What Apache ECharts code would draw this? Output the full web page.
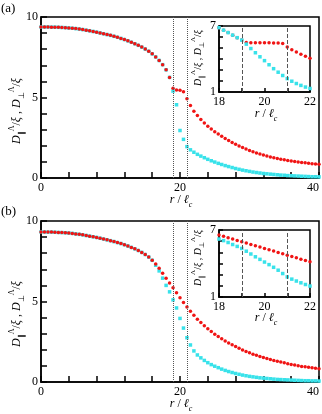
<!DOCTYPE html>
<html>
<head>
<meta charset="utf-8">
<script src="https://cdn.jsdelivr.net/npm/echarts@6/dist/echarts.min.js"></script>
<style>
  html, body { margin: 0; padding: 0; background: #fff; }
  #chart { width: 322px; height: 414px; }
</style>
</head>
<body>
<div id="chart"></div>
<script>
// r / l_c sample points, main panels
var rMain = [
  0, 0.5, 1, 1.5, 2, 2.5, 3, 3.5, 4, 4.5,
  5, 5.5, 6, 6.5, 7, 7.5, 8, 8.5, 9, 9.5,
  10, 10.5, 11, 11.5, 12, 12.5, 13, 13.5, 14, 14.5,
  15, 15.5, 16, 16.5, 17, 17.5, 18, 18.5, 19, 19.5,
  20, 20.5, 21, 21.5, 22, 22.5, 23, 23.5, 24, 24.5,
  25, 25.5, 26, 26.5, 27, 27.5, 28, 28.5, 29, 29.5,
  30, 30.5, 31, 31.5, 32, 32.5, 33, 33.5, 34, 34.5,
  35, 35.5, 36, 36.5, 37, 37.5, 38, 38.5, 39, 39.5,
  40
];

// panel (a)
var aPar = [
  9.38, 9.38, 9.38, 9.37, 9.37, 9.36, 9.35, 9.34, 9.32, 9.30,
  9.28, 9.25, 9.22, 9.18, 9.14, 9.10, 9.06, 9.01, 8.96, 8.91,
  8.86, 8.80, 8.74, 8.67, 8.60, 8.52, 8.43, 8.34, 8.24, 8.13,
  8.01, 7.87, 7.71, 7.52, 7.30, 7.04, 6.72, 6.25, 5.58, 5.47,
  5.45, 5.36, 4.92, 4.50, 4.15, 3.88, 3.63, 3.42, 3.22, 3.04,
  2.88, 2.73, 2.59, 2.46, 2.33, 2.21, 2.10, 1.99, 1.89, 1.80,
  1.71, 1.63, 1.56, 1.49, 1.43, 1.37, 1.31, 1.26, 1.21, 1.17,
  1.13, 1.09, 1.06, 1.03, 1.00, 0.97, 0.94, 0.92, 0.89, 0.87,
  0.85
];
var aPerp = [
  9.38, 9.38, 9.38, 9.37, 9.37, 9.36, 9.35, 9.34, 9.32, 9.30,
  9.28, 9.25, 9.22, 9.18, 9.14, 9.10, 9.06, 9.01, 8.96, 8.91,
  8.86, 8.80, 8.74, 8.67, 8.60, 8.52, 8.43, 8.34, 8.24, 8.13,
  8.01, 7.87, 7.71, 7.52, 7.30, 7.04, 6.72, 6.25, 5.40, 4.55,
  2.95, 2.40, 1.95, 1.75, 1.60, 1.47, 1.36, 1.26, 1.16, 1.07,
  0.99, 0.91, 0.84, 0.77, 0.71, 0.65, 0.59, 0.54, 0.49, 0.45,
  0.41, 0.37, 0.34, 0.31, 0.28, 0.26, 0.24, 0.22, 0.20, 0.18,
  0.17, 0.15, 0.14, 0.13, 0.12, 0.11, 0.10, 0.09, 0.08, 0.08,
  0.07
];

// panel (b)
var bPar = [
  9.32, 9.32, 9.31, 9.31, 9.30, 9.29, 9.28, 9.27, 9.25, 9.23,
  9.20, 9.17, 9.14, 9.10, 9.06, 9.02, 8.98, 8.93, 8.88, 8.83,
  8.78, 8.72, 8.66, 8.60, 8.53, 8.45, 8.36, 8.27, 8.17, 8.05,
  7.92, 7.76, 7.56, 7.33, 7.06, 6.76, 6.45, 6.15, 5.86, 5.55,
  5.24, 4.94, 4.66, 4.40, 4.14, 3.90, 3.69, 3.49, 3.30, 3.13,
  2.97, 2.82, 2.68, 2.55, 2.43, 2.31, 2.20, 2.09, 1.99, 1.90,
  1.81, 1.73, 1.66, 1.59, 1.52, 1.46, 1.40, 1.34, 1.29, 1.24,
  1.19, 1.14, 1.09, 1.05, 1.01, 0.97, 0.94, 0.91, 0.88, 0.85,
  0.82
];
var bPerp = [
  9.32, 9.32, 9.31, 9.31, 9.30, 9.29, 9.28, 9.27, 9.25, 9.23,
  9.20, 9.17, 9.14, 9.10, 9.06, 9.02, 8.98, 8.93, 8.88, 8.83,
  8.78, 8.72, 8.66, 8.60, 8.53, 8.45, 8.36, 8.27, 8.17, 8.05,
  7.92, 7.76, 7.56, 7.25, 6.90, 6.45, 6.00, 5.60, 5.10, 4.60,
  3.95, 3.35, 2.75, 2.30, 1.93, 1.68, 1.50, 1.34, 1.20, 1.08,
  0.98, 0.89, 0.80, 0.72, 0.65, 0.59, 0.53, 0.48, 0.43, 0.39,
  0.35, 0.32, 0.29, 0.26, 0.24, 0.22, 0.20, 0.18, 0.16, 0.15,
  0.14, 0.13, 0.12, 0.11, 0.10, 0.09, 0.08, 0.08, 0.07, 0.07,
  0.06
];

// insets, zoom on 18..22
var rInset = [18, 18.2, 18.4, 18.6, 18.8, 19, 19.2, 19.4, 19.6, 19.8, 20,
              20.2, 20.4, 20.6, 20.8, 21, 21.2, 21.4, 21.6, 21.8, 22];
var aParIn  = [6.85, 6.62, 6.40, 6.17, 5.94, 5.72, 5.50, 5.48, 5.48, 5.47, 5.47,
               5.47, 5.46, 5.45, 5.42, 5.08, 4.85, 4.63, 4.44, 4.25, 4.07];
var aPerpIn = [6.85, 6.62, 6.40, 6.17, 5.94, 5.72, 5.35, 4.95, 4.57, 4.20, 3.85,
               3.48, 3.12, 2.80, 2.50, 2.22, 1.98, 1.77, 1.60, 1.45, 1.32];
var bParIn  = [6.55, 6.43, 6.31, 6.19, 6.07, 5.95, 5.83, 5.71, 5.59, 5.47, 5.35,
               5.23, 5.11, 4.99, 4.87, 4.75, 4.63, 4.51, 4.39, 4.27, 4.15];
var bPerpIn = [6.19, 6.05, 5.88, 5.70, 5.53, 5.35, 5.10, 4.85, 4.60, 4.37, 4.13,
               3.90, 3.66, 3.40, 3.10, 2.80, 2.60, 2.43, 2.27, 2.12, 1.98];

var guideR = [19, 21];
var mainXLabels = [0, 20, 40];
var mainYLabels = [0, 5, 10];
var insetXLabels = [18, 20, 22];
var insetYLabels = [1, 7];

var RED = '#f01414';
var CYAN = '#38e2ea';
var FONT = 'Liberation Serif';

function pairs(xs, ys) {
  return xs.map(function (x, i) { return [x, ys[i]]; });
}

function richOf(size) {
  var small = Math.round(size * 0.65);
  var lh = size + 6;
  return {
    i: { fontFamily: FONT, fontStyle: 'italic', fontSize: size, fill: '#000', lineHeight: lh, verticalAlign: 'middle' },
    t: { fontFamily: FONT, fontSize: size, fill: '#000', lineHeight: lh, verticalAlign: 'middle' },
    sup: { fontFamily: FONT, fontSize: small, fill: '#000', lineHeight: lh, verticalAlign: 'top' },
    sub: { fontFamily: FONT, fontSize: small, fill: '#000', lineHeight: lh, verticalAlign: 'bottom' },
    subi: { fontFamily: FONT, fontStyle: 'italic', fontSize: small, fill: '#000', lineHeight: lh, verticalAlign: 'bottom' }
  };
}
var yName = '{i|D}{sub|∥}{sup|Λ}{t|/}{i|ξ}{t| , }{i|D}{sub|⊥}{sup|Λ}{t|/}{i|ξ}';
var xName = '{i|r}{t| / }{i|ℓ}{subi|c}';

function nameText(txt, x, y, size, vertical) {
  return {
    type: 'text', x: x, y: y, rotation: vertical ? Math.PI / 2 : 0, z: 10,
    style: { text: txt, rich: richOf(size), align: 'center', verticalAlign: 'middle' }
  };
}

function xAxisOf(grid, min, max, interval, labels, tickLen) {
  return {
    gridIndex: grid, type: 'value', min: min, max: max, interval: interval,
    axisLine: { onZero: false, lineStyle: { color: '#000', width: 1.5 } },
    axisTick: { inside: true, length: tickLen, lineStyle: { color: '#000', width: 1.5 } },
    splitLine: { show: false },
    axisLabel: {
      fontFamily: FONT, fontSize: 12, color: '#000', margin: 4,
      alignMaxLabel: max === 40 ? 'right' : null,
      formatter: function (v) { return labels.indexOf(v) >= 0 ? String(v) : ''; }
    }
  };
}

function yAxisOf(grid, min, max, interval, labels, tickLen) {
  return {
    gridIndex: grid, type: 'value', min: min, max: max, interval: interval,
    axisLine: { onZero: false, lineStyle: { color: '#000', width: 1.5 } },
    axisTick: { inside: true, length: tickLen, lineStyle: { color: '#000', width: 1.5 } },
    splitLine: { show: false },
    axisLabel: {
      fontFamily: FONT, fontSize: 12, color: '#000', margin: 3,
      formatter: function (v) { return labels.indexOf(v) >= 0 ? String(v) : ''; }
    }
  };
}

function guides(type) {
  return {
    silent: true, symbol: ['none', 'none'], label: { show: false },
    lineStyle: { type: type, color: '#555', width: 1 },
    data: guideR.map(function (r) { return { xAxis: r }; })
  };
}

function dots(idx, data, color, shape, size, z, mark) {
  var s = {
    type: 'scatter', xAxisIndex: idx, yAxisIndex: idx, data: data,
    symbol: shape, symbolSize: size, z: z,
    itemStyle: { color: color, opacity: 1 }
  };
  if (mark) s.markLine = mark;
  return s;
}

var chart = echarts.init(document.getElementById('chart'));
var gridStyle = { show: true, borderColor: '#000', borderWidth: 1.5, containLabel: false, outerBoundsMode: 'none' };

chart.setOption({
  animation: false,
  backgroundColor: '#fff',
  grid: [
    Object.assign({ left: 41, top: 17, width: 278, height: 161 }, gridStyle),
    Object.assign({ left: 219, top: 26, width: 91, height: 66, backgroundColor: '#fff' }, gridStyle),
    Object.assign({ left: 41, top: 221, width: 278, height: 161 }, gridStyle),
    Object.assign({ left: 219, top: 230, width: 91, height: 67, backgroundColor: '#fff' }, gridStyle)
  ],
  xAxis: [
    xAxisOf(0, 0, 40, 4, mainXLabels, 6),
    xAxisOf(1, 18, 22, 1, insetXLabels, 4),
    xAxisOf(2, 0, 40, 4, mainXLabels, 6),
    xAxisOf(3, 18, 22, 1, insetXLabels, 4)
  ],
  yAxis: [
    yAxisOf(0, 0, 10, 1, mainYLabels, 6),
    yAxisOf(1, 1, 7, 1, insetYLabels, 4),
    yAxisOf(2, 0, 10, 1, mainYLabels, 6),
    yAxisOf(3, 1, 7, 1, insetYLabels, 4)
  ],
  graphic: [
    { type: 'text', left: 1, top: 2, style: { text: '(a)', font: '13px "Liberation Serif"', fill: '#000' } },
    { type: 'text', left: 1, top: 205, style: { text: '(b)', font: '13px "Liberation Serif"', fill: '#000' } },
    nameText(yName, 17, 111, 12, true),
    nameText(yName, 17, 314, 12, true),
    nameText(yName, 198, 58, 10, true),
    nameText(yName, 198, 258, 10, true),
    nameText(xName, 181, 200, 12, false),
    nameText(xName, 181, 404, 12, false),
    nameText(xName, 266, 114, 12, false),
    nameText(xName, 266, 318, 12, false)
  ],
  series: [
    dots(0, pairs(rMain, aPerp), CYAN, 'rect', 3.5, 2, guides('dotted')),
    dots(0, pairs(rMain, aPar), RED, 'circle', 3.5, 3),
    dots(1, pairs(rInset, aParIn), RED, 'circle', 3.5, 2, guides('dashed')),
    dots(1, pairs(rInset, aPerpIn), CYAN, 'rect', 3.5, 3),
    dots(2, pairs(rMain, bPerp), CYAN, 'rect', 3.5, 2, guides('dotted')),
    dots(2, pairs(rMain, bPar), RED, 'circle', 3.5, 3),
    dots(3, pairs(rInset, bParIn), RED, 'circle', 3.5, 2, guides('dashed')),
    dots(3, pairs(rInset, bPerpIn), CYAN, 'rect', 3.5, 3)
  ]
});
</script>
</body>
</html>
